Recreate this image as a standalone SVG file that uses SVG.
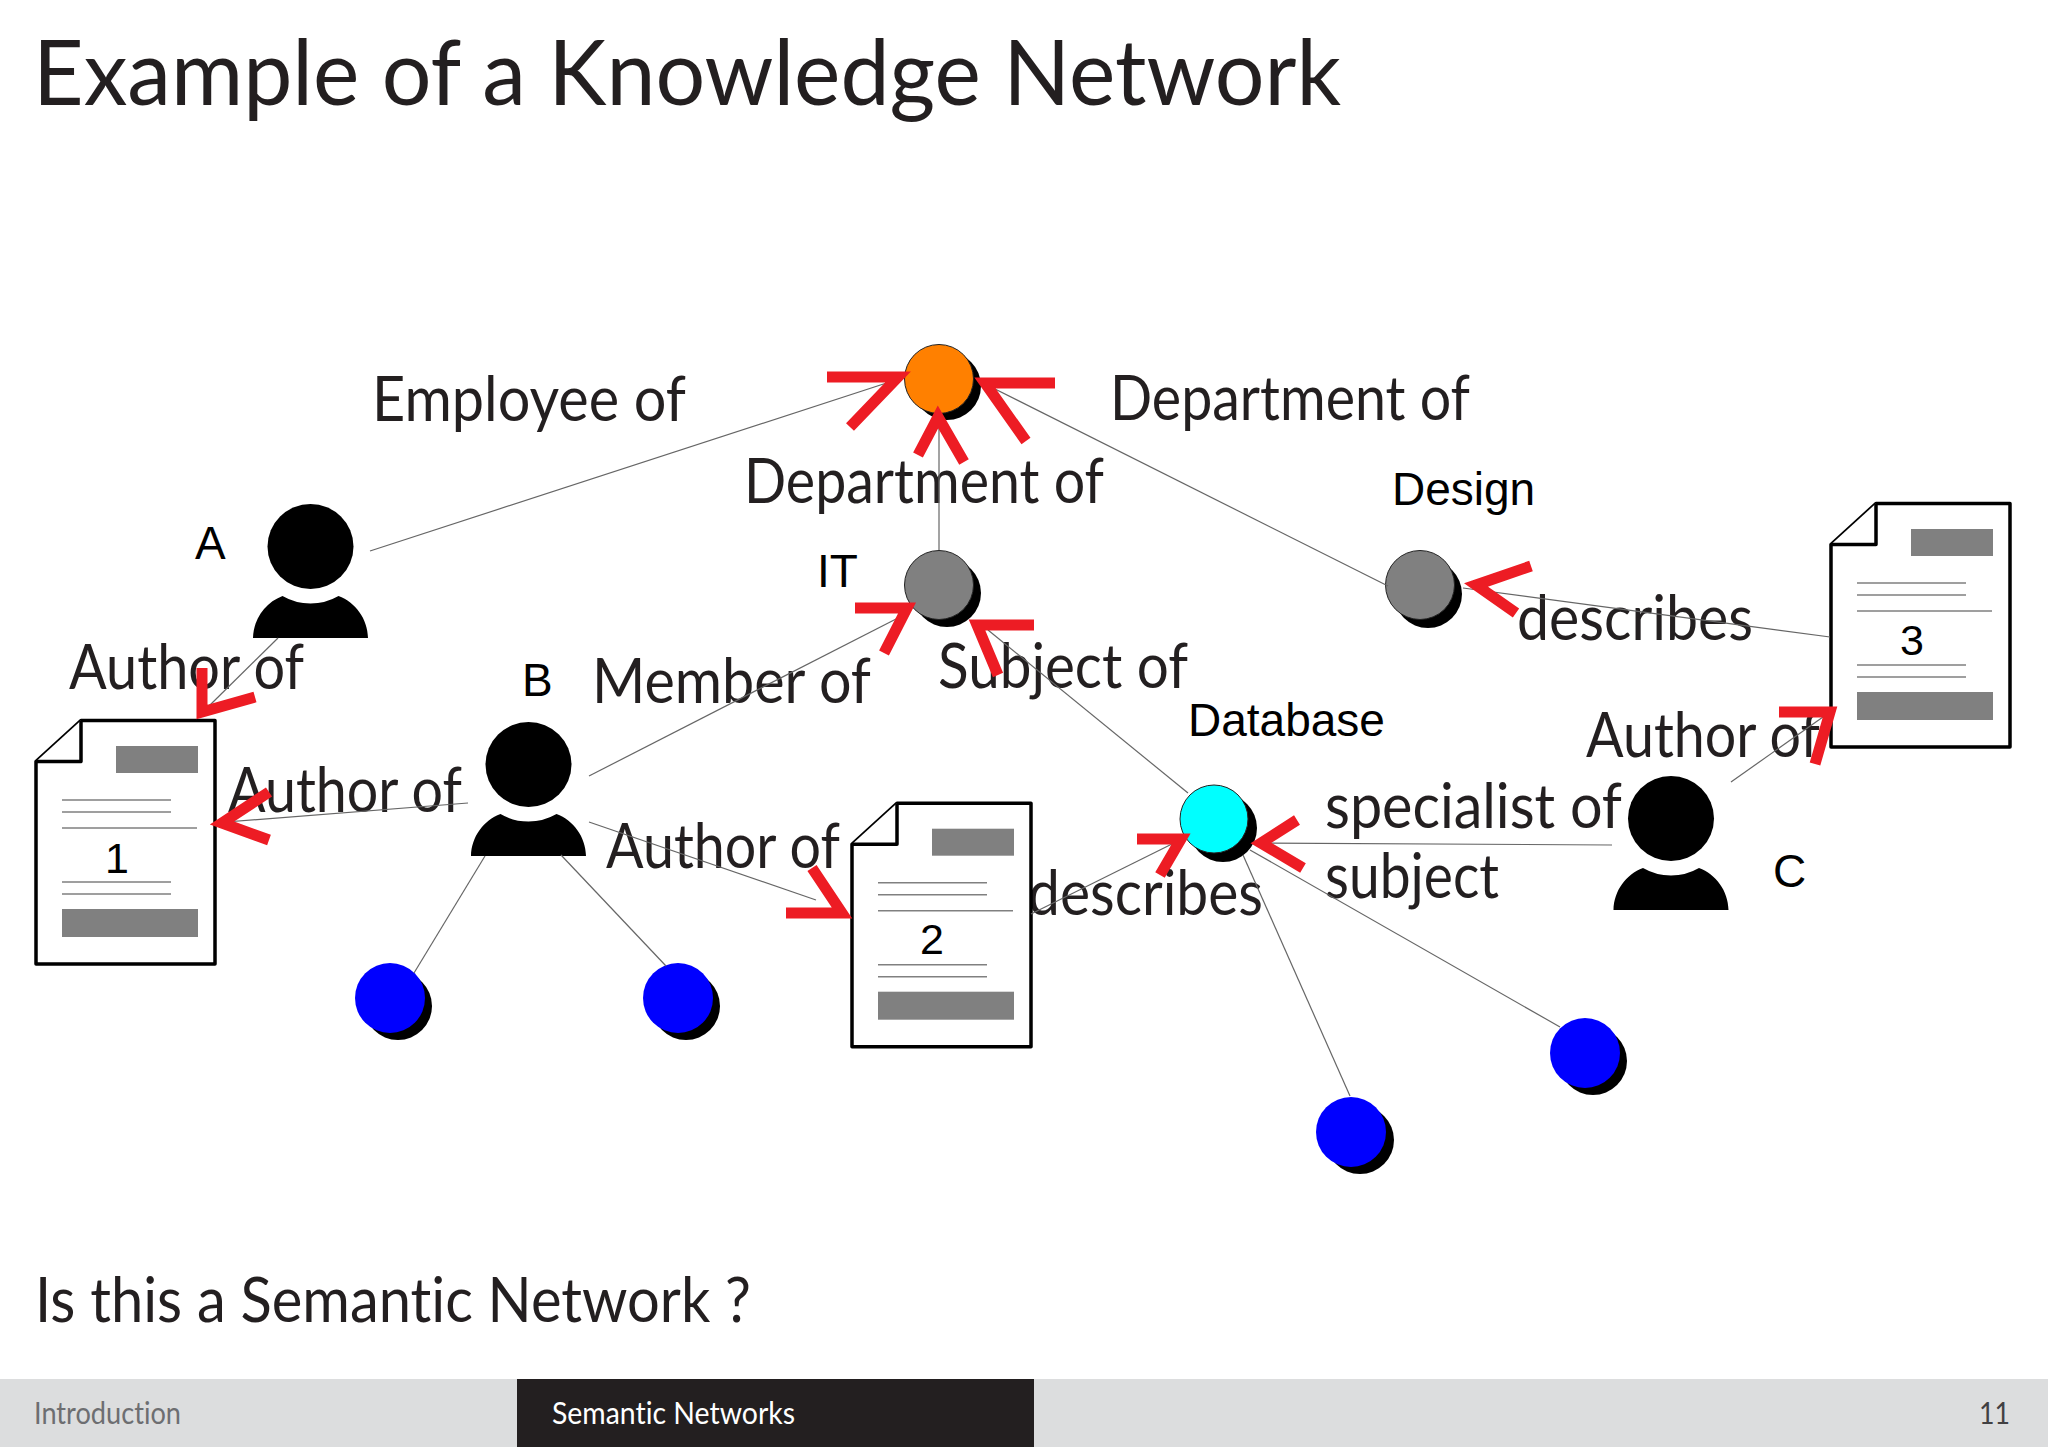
<svg xmlns="http://www.w3.org/2000/svg" width="2048" height="1447" viewBox="0 0 2048 1447">
<style>
text{font-family:"Lato","Open Sans","Liberation Sans",sans-serif;fill:#231f20;font-variant-ligatures:none}
.f{font-weight:400}
.rel{font-size:62px;font-weight:400}
.ar{font-family:"Liberation Sans",Arial,sans-serif;font-size:46px;fill:#000}
.dg{font-family:"Liberation Sans",Arial,sans-serif;font-size:43px;fill:#000;text-anchor:middle}
.ln{stroke:#666;stroke-width:1.2;fill:none}
.ah{stroke:#ed1c24;stroke-width:11;fill:none;stroke-linejoin:miter;stroke-miterlimit:8}
.sh{fill:#000}
.c{stroke:#222;stroke-width:1}
.dl{stroke:#808080;stroke-width:1.6;fill:none}
.dr{fill:#808080}
.do{stroke:#000;stroke-width:3.5;fill:#fff;stroke-linejoin:round}
</style>
<defs>
<g id="person"><ellipse cx="0" cy="0" rx="43" ry="42.5"/><path d="M-57.5 91.5C-57 72-45 56-28 49.5Q-15 57 0 57Q15 57 28 49.5C45 56 57 72 57.5 91.5Z"/></g>
<g id="doc">
<path class="do" d="M36 761.5L81 720.5H215V964H36Z"/>
<path class="do" d="M36 761.5H81V720.5"/>
<rect class="dr" x="116" y="746" width="82" height="27"/>
<path class="dl" d="M62 800H171M62 812H171M62 828H197M62 882H171M62 894H171"/>
<rect class="dr" x="62" y="909" width="136" height="28"/>
</g>
</defs>
<rect width="2048" height="1447" fill="#fff"/>
<g id="title">
<text class="f" x="33" y="105" font-size="92" textLength="1308" lengthAdjust="spacingAndGlyphs">Example of a Knowledge Network</text>
</g>
<g id="labels">
<text class="rel" x="372" y="421" textLength="314" lengthAdjust="spacingAndGlyphs">Employee of</text>
<text class="rel" x="1110" y="420" textLength="360" lengthAdjust="spacingAndGlyphs">Department of</text>
<text class="rel" x="744" y="503" textLength="360" lengthAdjust="spacingAndGlyphs">Department of</text>
<text class="rel" x="69" y="689" textLength="235" lengthAdjust="spacingAndGlyphs">Author of</text>
<text class="rel" x="228" y="812" textLength="234" lengthAdjust="spacingAndGlyphs">Author of</text>
<text class="rel" x="606" y="868" textLength="234" lengthAdjust="spacingAndGlyphs">Author of</text>
<text class="rel" x="1586" y="757" textLength="234" lengthAdjust="spacingAndGlyphs">Author of</text>
<text class="rel" x="592" y="703" textLength="279" lengthAdjust="spacingAndGlyphs">Member of</text>
<text class="rel" x="938" y="688" textLength="250" lengthAdjust="spacingAndGlyphs">Subject of</text>
<text class="rel" x="1028" y="915" textLength="235" lengthAdjust="spacingAndGlyphs">describes</text>
<text class="rel" x="1517" y="640" textLength="236" lengthAdjust="spacingAndGlyphs">describes</text>
<text class="rel" x="1325" y="828" textLength="297" lengthAdjust="spacingAndGlyphs">specialist of</text>
<text class="rel" x="1325" y="898" textLength="174" lengthAdjust="spacingAndGlyphs">subject</text>
</g>
<g id="person-a"><use href="#person" x="310.5" y="546.5"/><text class="ar" x="195" y="559">A</text></g>
<g id="person-b"><use href="#person" x="528.5" y="764.5"/><text class="ar" x="522" y="696">B</text></g>
<g id="person-c"><use href="#person" x="1671" y="818.5"/><text class="ar" x="1773" y="887">C</text></g>
<g id="doc-1"><use href="#doc"/><text class="dg" x="117" y="873">1</text></g>
<g id="doc-2"><use href="#doc" x="816" y="82.7"/><text class="dg" x="932" y="954">2</text></g>
<g id="doc-3"><use href="#doc" x="1795" y="-217"/><text class="dg" x="1912" y="655">3</text></g>
<g id="org"><circle class="sh" cx="947" cy="386" r="34"/><circle class="c" cx="939" cy="379" r="34.5" fill="#ff8000"/></g>
<g id="dept-it"><circle class="sh" cx="947" cy="593" r="34"/><circle class="c" cx="939" cy="585" r="34.5" fill="#808080"/><text class="ar" x="817" y="587">IT</text></g>
<g id="dept-design"><circle class="sh" cx="1428" cy="594" r="34"/><circle class="c" cx="1420" cy="585" r="34.5" fill="#808080"/><text class="ar" x="1392" y="505">Design</text></g>
<g id="subject-database"><circle class="sh" cx="1223" cy="828" r="34"/><circle class="c" cx="1214" cy="819" r="34" fill="#00ffff"/><text class="ar" x="1188" y="736">Database</text></g>
<g id="blue-1"><circle class="sh" cx="398" cy="1006" r="34"/><circle cx="390" cy="998" r="35" fill="#0000ff"/></g>
<g id="blue-2"><circle class="sh" cx="686" cy="1006" r="34"/><circle cx="678" cy="998" r="35" fill="#0000ff"/></g>
<g id="blue-3"><circle class="sh" cx="1360" cy="1140" r="34"/><circle cx="1351" cy="1132" r="35" fill="#0000ff"/></g>
<g id="blue-4"><circle class="sh" cx="1593" cy="1061" r="34"/><circle cx="1585" cy="1053" r="35" fill="#0000ff"/></g>
<g id="connectors">
<path class="ln" d="M370 551L905 377"/>
<path class="ln" d="M939 412V550"/>
<path class="ln" d="M993 388L1388 586"/>
<path class="ln" d="M589 776L898 618"/>
<path class="ln" d="M988 630L1188 793"/>
<path class="ln" d="M468 803L213 823"/>
<path class="ln" d="M278 638L207 708"/>
<path class="ln" d="M589 822L816 900"/>
<path class="ln" d="M1031 914L1174 843"/>
<path class="ln" d="M1612 845L1254 843"/>
<path class="ln" d="M1243 855L1350 1096"/>
<path class="ln" d="M1250 850L1560 1027"/>
<path class="ln" d="M485 856L414 973"/>
<path class="ln" d="M561 855L666 966"/>
<path class="ln" d="M1830 637L1463 588"/>
<path class="ln" d="M1731 782L1823 717"/>
<path class="ah" d="M827 377H898L850 427"/>
<path class="ah" d="M918 455L938 417L964 462"/>
<path class="ah" d="M1055 383H985L1026 441"/>
<path class="ah" d="M855 608H907L884 653"/>
<path class="ah" d="M1034 625H977L998 675"/>
<path class="ah" d="M269 792L222 823L269 840"/>
<path class="ah" d="M202 668V712L255 697"/>
<path class="ah" d="M786 913H842L812 868"/>
<path class="ah" d="M1137 839H1181L1160 875"/>
<path class="ah" d="M1297 820L1261 843L1303 868"/>
<path class="ah" d="M1531 566L1476 585L1516 613"/>
<path class="ah" d="M1779 712H1830L1815 764"/>
</g>
<g id="question">
<text class="f" x="35" y="1322" font-size="62" textLength="716" lengthAdjust="spacingAndGlyphs">Is this a Semantic Network ?</text>
</g>
<g id="footer">
<rect x="0" y="1379" width="2048" height="68" fill="#dcddde"/>
<rect x="517" y="1379" width="517" height="68" fill="#231f20"/>
<text class="f" x="34" y="1424" font-size="31" style="fill:#6d6e71" textLength="147" lengthAdjust="spacingAndGlyphs">Introduction</text>
<text class="f" x="552" y="1424" font-size="31" style="fill:#fff" textLength="243" lengthAdjust="spacingAndGlyphs">Semantic Networks</text>
<text class="f" x="1979" y="1424" font-size="31" style="fill:#414042" textLength="31" lengthAdjust="spacingAndGlyphs">11</text>
</g>
</svg>
